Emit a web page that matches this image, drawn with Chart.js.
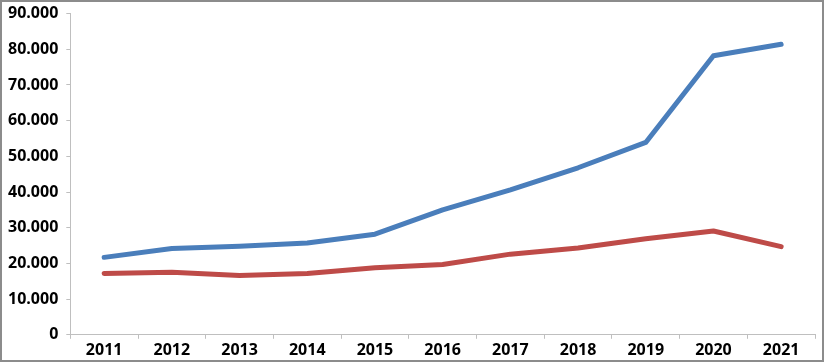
<!DOCTYPE html>
<html>
<head>
<meta charset="utf-8">
<script src="https://cdn.jsdelivr.net/npm/chart.js@4"></script>
<style>
  html, body { margin: 0; padding: 0; background: #fff; }
  #wrap { position: relative; width: 824px; height: 362px; overflow: hidden; }
  #box { position: absolute; left: 0px; top: -4px; width: 820px; height: 366px; }
  #frame { position: absolute; left: 0; top: 0; width: 824px; height: 362px; box-sizing: border-box; border: 2px solid #8c8c8c; pointer-events: none; }
</style>
</head>
<body>
<div id="wrap">
  <div id="box"><canvas id="chart"></canvas></div>
  <div id="frame"></div>
</div>
<script>
// values
const years = ['2011', '2012', '2013', '2014', '2015', '2016', '2017', '2018', '2019', '2020', '2021'];
const blueSeries = [21700, 24200, 24800, 25700, 28200, 35000, 40600, 46800, 53900, 78200, 81400];
const redSeries = [17200, 17500, 16600, 17200, 18800, 19700, 22600, 24300, 26900, 29100, 24700];

const blue = '#4a7ebb';
const red = '#be4b48';
const axisGrey = '#bfbfbf';

Chart.defaults.font.family = '"Open Sans", "Noto Sans", sans-serif';
Chart.defaults.font.weight = 'bold';
Chart.defaults.font.size = 16;
Chart.defaults.color = '#000';

new Chart(document.getElementById('chart'), {
  type: 'line',
  data: {
    labels: years,
    datasets: [{
      data: blueSeries,
      borderColor: blue,
      borderWidth: 5,
      pointRadius: 0,
      tension: 0,
      borderCapStyle: 'round',
      borderJoinStyle: 'round'
    }, {
      data: redSeries,
      borderColor: red,
      borderWidth: 5,
      pointRadius: 0,
      tension: 0,
      borderCapStyle: 'round',
      borderJoinStyle: 'round'
    }]
  },
  options: {
    responsive: true,
    maintainAspectRatio: false,
    animation: false,
    layout: { padding: { left: 0, top: 0, right: 5, bottom: 0 } },
    plugins: {
      legend: { display: false },
      tooltip: { enabled: false }
    },
    scales: {
      x: {
        offset: true,
        grid: { offset: true, drawOnChartArea: false, tickLength: 4, color: axisGrey },
        border: { color: axisGrey, width: 1 },
        ticks: { padding: 2, maxRotation: 0 }
      },
      y: {
        min: 0,
        max: 90000,
        grid: { drawOnChartArea: false, tickLength: 4, color: axisGrey },
        border: { color: axisGrey, width: 1 },
        ticks: {
          stepSize: 10000,
          padding: 8,
          callback: function(value) {
            return value === 0 ? '0' : (value / 1000).toFixed(3);
          }
        }
      }
    }
  }
});
</script>
</body>
</html>
